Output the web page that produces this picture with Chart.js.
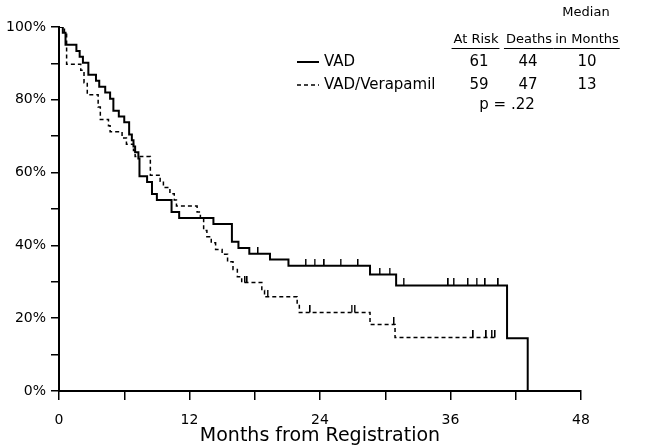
<!DOCTYPE html>
<html>
<head>
<meta charset="utf-8">
<script src="https://cdn.jsdelivr.net/npm/chart.js@4"></script>
<style>
  body { margin: 0; background: #fff; }
  canvas { display: block; }
</style>
</head>
<body>
<canvas id="kmChart" width="650" height="446"></canvas>
<script>
// Survival curves (months, % surviving after the step)
const vadTimes = [0, 0.35, 0.6, 1.6, 1.9, 2.2, 2.7, 3.4, 3.7, 4.25, 4.7, 5.0, 5.5, 6.0, 6.45, 6.7, 6.85, 7.0, 7.3, 7.4, 8.1, 8.55, 9.0, 10.35, 11.05, 14.2, 15.9, 16.5, 17.5, 19.4, 21.1, 28.6, 31.0, 41.2, 43.1];
const vadSurv  = [100, 98.4, 95.1, 93.4, 91.8, 90.2, 86.9, 85.2, 83.6, 82.0, 80.3, 77.0, 75.4, 73.8, 70.5, 68.9, 67.2, 65.6, 63.9, 59.0, 57.4, 54.1, 52.5, 49.2, 47.5, 45.9, 41.0, 39.3, 37.7, 36.1, 34.4, 32.0, 29.0, 14.5, 0];
const vadCensored = [18.3, 22.7, 23.5, 24.4, 25.9, 27.5, 29.5, 30.4, 31.7, 35.8, 36.3, 37.6, 38.4, 39.2, 40.4];

const verTimes = [0, 0.5, 0.7, 2.0, 2.3, 2.6, 3.6, 3.8, 4.55, 4.7, 5.8, 6.2, 6.85, 7.0, 8.4, 9.3, 9.6, 10.2, 10.6, 10.8, 12.7, 13.0, 13.3, 13.6, 14.0, 14.4, 15.0, 15.5, 16.0, 16.4, 16.8, 18.65, 18.9, 21.9, 22.1, 28.6, 30.9, 40.2];
const verSurv  = [100, 98.3, 89.8, 88.1, 84.7, 81.4, 78.0, 74.6, 72.9, 71.2, 69.5, 67.8, 66.1, 64.4, 59.3, 57.6, 55.9, 54.2, 52.5, 50.8, 49.2, 47.5, 44.1, 42.4, 40.7, 38.9, 37.6, 35.5, 33.4, 31.4, 29.8, 27.6, 25.9, 23.8, 21.6, 18.3, 14.7, 14.7];
const verCensored = [17.1, 17.3, 19.2, 23.1, 26.9, 27.2, 30.8, 38.1, 39.3, 39.8, 40.1];

// Legend table
const groupNames = ['VAD', 'VAD/Verapamil'];
const atRisk = [61, 59];
const deaths = [44, 47];
const medians = [10, 13];
const pValue = 'p = .22';

const xTicks = [0, 12, 24, 36, 48];
const yTicks = [0, 20, 40, 60, 80, 100];

function toPoints(times, vals) {
    return times.map((t, i) => ({ x: t, y: vals[i] }));
}

// y value of the step curve at time t
function survAt(times, vals, t) {
    let v = vals[0];
    for (let i = 0; i < times.length; i++) {
        if (times[i] <= t) v = vals[i];
    }
    return v;
}

// small vertical tick drawn above the curve for censored patients
function censorMark() {
    const c = document.createElement('canvas');
    c.width = 2;
    c.height = 14;
    const g = c.getContext('2d');
    g.fillStyle = '#000';
    g.fillRect(0, 0, 1.5, 7);
    return c;
}
const tickImg = censorMark();

const FONT = "'DejaVu Sans', sans-serif";

const legendTable = {
    id: 'legendTable',
    afterDraw(chart) {
        const ctx = chart.ctx;
        ctx.save();
        ctx.fillStyle = '#000';
        ctx.strokeStyle = '#000';
        ctx.textBaseline = 'middle';
        ctx.textAlign = 'center';

        ctx.font = `13px ${FONT}`;
        ctx.fillText('Median', 586, 13);
        const heads = [['At Risk', 476], ['Deaths', 529], ['in Months', 587]];
        heads.forEach(([txt, cx]) => {
            ctx.fillText(txt, cx, 40);
            const w = ctx.measureText(txt).width;
            ctx.lineWidth = 1.2;
            ctx.beginPath();
            ctx.moveTo(cx - w / 2 - 2, 48.5);
            ctx.lineTo(cx + w / 2 + 1, 48.5);
            ctx.stroke();
        });

        ctx.font = `15px ${FONT}`;
        const rowsY = [62, 85];
        groupNames.forEach((name, i) => {
            const y = rowsY[i];
            ctx.lineWidth = i === 0 ? 2 : 1.5;
            ctx.setLineDash(i === 0 ? [] : [4, 3]);
            ctx.beginPath();
            ctx.moveTo(297, y);
            ctx.lineTo(319, y);
            ctx.stroke();
            ctx.setLineDash([]);
            ctx.textAlign = 'left';
            ctx.fillText(name, 324, y);
            ctx.textAlign = 'center';
            ctx.fillText(String(atRisk[i]), 479, y);
            ctx.fillText(String(deaths[i]), 528, y);
            ctx.fillText(String(medians[i]), 587, y);
        });
        ctx.fillText(pValue, 507, 105);
        ctx.restore();
    }
};

const ctx = document.getElementById('kmChart');
new Chart(ctx, {
    type: 'line',
    data: {
        datasets: [
            {
                label: 'VAD',
                data: toPoints(vadTimes, vadSurv),
                borderColor: '#000',
                borderWidth: 2,
                stepped: 'before',
                pointRadius: 0,
                fill: false
            },
            {
                label: 'VAD/Verapamil',
                data: toPoints(verTimes, verSurv),
                borderColor: '#000',
                borderWidth: 1.5,
                borderDash: [4, 3],
                stepped: 'before',
                pointRadius: 0,
                fill: false
            },
            {
                label: 'VAD censored',
                data: vadCensored.map(t => ({ x: t, y: survAt(vadTimes, vadSurv, t) })),
                showLine: false,
                pointStyle: tickImg,
                pointRadius: 4
            },
            {
                label: 'VAD/Verapamil censored',
                data: verCensored.map(t => ({ x: t, y: survAt(verTimes, verSurv, t) })),
                showLine: false,
                pointStyle: tickImg,
                pointRadius: 4
            }
        ]
    },
    options: {
        responsive: false,
        animation: false,
        devicePixelRatio: 1,
        layout: { padding: { top: 27, right: 69, left: 0, bottom: 0 } },
        plugins: {
            legend: { display: false },
            tooltip: { enabled: false }
        },
        scales: {
            x: {
                type: 'linear',
                min: 0,
                max: 48,
                afterFit: s => { s.height = 55; },
                border: { color: '#000', width: 2 },
                grid: { drawOnChartArea: false, drawTicks: true, tickLength: 9, color: '#000', lineWidth: 1.5 },
                ticks: {
                    stepSize: 6,
                    autoSkip: false,
                    maxRotation: 0,
                    padding: 12,
                    color: '#000',
                    font: { family: FONT, size: 14 },
                    callback: v => xTicks.includes(v) ? String(v) : ''
                },
                title: {
                    display: true,
                    text: 'Months from Registration',
                    color: '#000',
                    font: { family: FONT, size: 19, lineHeight: 1 },
                    padding: { top: 0, bottom: 0 }
                }
            },
            y: {
                min: 0,
                max: 100,
                afterFit: s => { s.width = 59; },
                border: { color: '#000', width: 2 },
                grid: { drawOnChartArea: false, drawTicks: true, tickLength: 8, color: '#000', lineWidth: 1.5 },
                ticks: {
                    stepSize: 10,
                    autoSkip: false,
                    padding: 5,
                    color: '#000',
                    font: { family: FONT, size: 14 },
                    callback: v => yTicks.includes(v) ? v + '%' : ''
                }
            }
        }
    },
    plugins: [legendTable]
});
</script>
</body>
</html>
